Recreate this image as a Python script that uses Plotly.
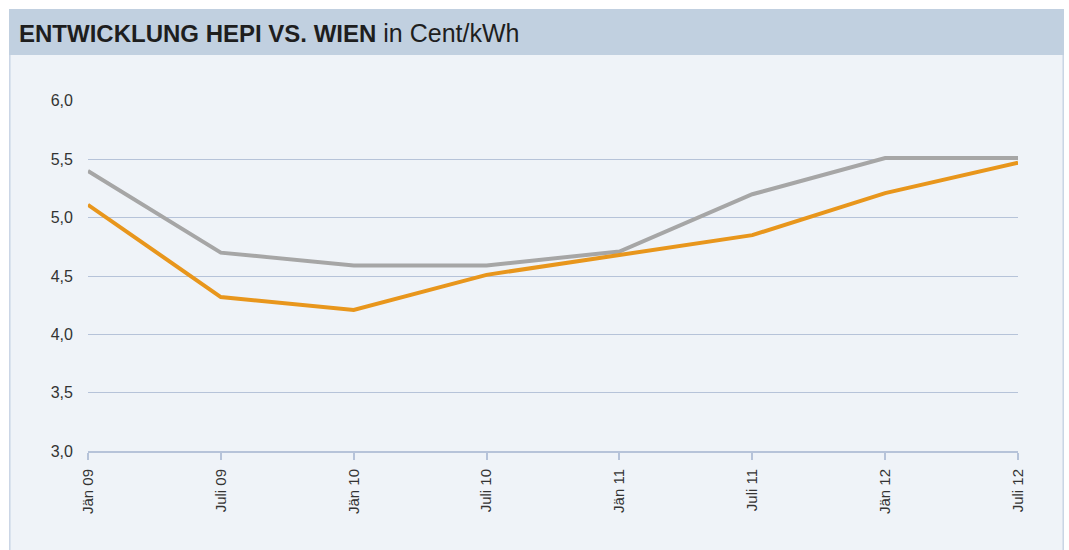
import plotly.graph_objects as go

# Half-year periods on the x axis
periods = ["Jän 09", "Juli 09", "Jän 10", "Juli 10", "Jän 11", "Juli 11", "Jän 12", "Juli 12"]

# Prices in Cent/kWh
wien = [5.40, 4.70, 4.59, 4.59, 4.71, 5.20, 5.51, 5.51]
hepi = [5.11, 4.32, 4.21, 4.51, 4.68, 4.85, 5.21, 5.47]

# Value-axis ticks with German decimal commas
y_ticks = [3.0, 3.5, 4.0, 4.5, 5.0, 5.5, 6.0]
y_tick_labels = ["3,0", "3,5", "4,0", "4,5", "5,0", "5,5", "6,0"]

# Figure drawing area and the page inset around it
INSET = 8
DRAW_W, DRAW_H = 1069, 550
W, H = DRAW_W + 2 * INSET, DRAW_H + 2 * INSET
FONT = "Liberation Sans, Arial, sans-serif"

x_idx = list(range(len(periods)))

fig = go.Figure()
fig.add_trace(go.Scatter(
    x=x_idx, y=wien, mode="lines", name="Wien",
    line=dict(color="#a6a6a6", width=4), hoverinfo="x+y",
))
fig.add_trace(go.Scatter(
    x=x_idx, y=hepi, mode="lines", name="HEPI",
    line=dict(color="#e8961c", width=4), hoverinfo="x+y",
))


def px_x(p):
    """Page x pixel -> paper fraction."""
    return (p - INSET) / DRAW_W


def px_y(p):
    """Page y pixel -> paper fraction."""
    return 1 - (p - INSET) / DRAW_H


shapes = [
    # light panel with thin side borders
    dict(type="rect", xref="paper", yref="paper",
         x0=px_x(8.8), x1=px_x(1063.2), y0=px_y(600), y1=px_y(54),
         fillcolor="#eff3f8", line=dict(color="#c9d5e5", width=1.5), layer="below"),
    # title band
    dict(type="rect", xref="paper", yref="paper",
         x0=px_x(8), x1=px_x(1064), y0=px_y(55), y1=px_y(9),
         fillcolor="#c1d0e0", line=dict(width=0), layer="below"),
]

title_text = (
    "<b>ENTWICKLUNG HEPI VS. WIEN</b>"
    "<span style='font-size:25px'> in Cent/kWh</span>"
)

fig.update_layout(
    width=W, height=H,
    margin=dict(l=0, r=0, t=0, b=0),
    paper_bgcolor="white",
    plot_bgcolor="rgba(0,0,0,0)",
    showlegend=False,
    shapes=shapes,
    font=dict(family=FONT, color="#333333"),
    annotations=[
        dict(xref="paper", yref="paper", x=px_x(16), y=px_y(33),
             xanchor="left", yanchor="middle", showarrow=False,
             text=title_text,
             font=dict(family=FONT, size=24, color="#1e1e1e")),
    ],
    xaxis=dict(
        domain=[px_x(87), px_x(1018)],
        range=[0, len(periods) - 1],
        tickmode="array", tickvals=x_idx, ticktext=periods,
        tickangle=-90,
        showgrid=False, zeroline=False,
        showline=True, linecolor="#b6c3d9", linewidth=1.5,
        ticks="outside", ticklen=7, tickcolor="#b6c3d9", tickwidth=1.5,
        ticklabelstandoff=3,
        tickfont=dict(family=FONT, size=15, color="#333333"),
        fixedrange=True,
    ),
    yaxis=dict(
        domain=[px_y(452), px_y(101)],
        range=[3.0, 6.0],
        tickmode="array", tickvals=y_ticks, ticktext=y_tick_labels,
        showgrid=True, gridcolor="#b6c3d9", gridwidth=1.2,
        zeroline=False, showline=False, ticks="",
        ticklabelstandoff=14,
        tickfont=dict(family=FONT, size=16, color="#333333"),
        fixedrange=True,
    ),
)

fig.write_html("out.html")
